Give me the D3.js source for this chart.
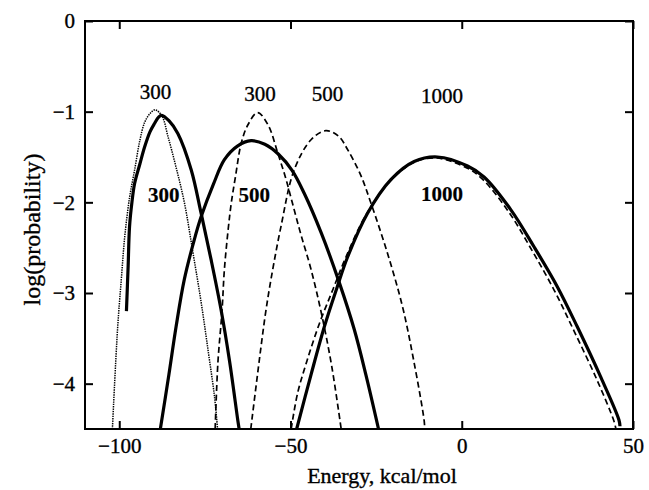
<!DOCTYPE html>
<html>
<head>
<style>
  body {
    margin: 0;
    background-color: #fff;
  }
  text {
    font-family: "Liberation Serif", "Times New Roman", serif;
    fill: #000;
  }
</style>
<script src="https://d3js.org/d3.v7.min.js"></script>
</head>
<body>
<script>
  // energy (kcal/mol), log(probability) pairs
  const dotted300 = [
    [-102, -4.5], [-100.5, -3.4], [-99.4, -2.85], [-98.4, -2.38], [-97, -1.95],
    [-95.5, -1.64], [-94, -1.32], [-92.6, -1.12], [-91, -1.02], [-89.5, -0.98],
    [-87.5, -1.05], [-85.8, -1.27], [-83.5, -1.6], [-81, -2.0], [-78.5, -2.55],
    [-76.1, -3.1], [-74, -3.65], [-72.2, -4.14], [-71.3, -4.5]
  ];

  const solid300 = [
    [-97.9, -3.2], [-97.4, -2.7], [-97, -2.27], [-96.3, -2.0], [-95.5, -1.79],
    [-94, -1.58], [-92.6, -1.39], [-91, -1.22], [-89.7, -1.13], [-88.5, -1.06],
    [-87.6, -1.04], [-85.5, -1.1], [-82.9, -1.24], [-79, -1.64], [-76.1, -2.12],
    [-73.2, -2.63], [-70.3, -3.18], [-67.8, -3.75], [-65.4, -4.4], [-65, -4.5]
  ];

  const solid500 = [
    [-88, -4.5], [-85.5, -3.9], [-83.4, -3.37], [-81, -2.85], [-78, -2.4],
    [-76.1, -2.16], [-72.5, -1.8], [-69.3, -1.53], [-65.5, -1.38], [-61.5, -1.32],
    [-57.5, -1.36], [-53.5, -1.47], [-49.5, -1.65], [-46, -1.9], [-41, -2.34],
    [-35.8, -2.88], [-31.4, -3.4], [-28, -3.9], [-24.3, -4.5]
  ];

  const solid1000 = [
    [-48.2, -4.5], [-44, -3.9], [-40.1, -3.37], [-36.5, -2.95], [-33.3, -2.6],
    [-27.5, -2.12], [-20.7, -1.75], [-13.9, -1.55], [-7.1, -1.5], [1.7, -1.6],
    [6.5, -1.72], [14.3, -2.08], [21.1, -2.49], [27.9, -2.93], [33.7, -3.37],
    [40.5, -3.92], [45.9, -4.4], [46.2, -4.47]
  ];

  const dashed300 = [
    [-72, -4.5], [-71.2, -3.77], [-70, -3.2], [-69.3, -2.74], [-68.2, -2.3],
    [-67.3, -2.01], [-66, -1.7], [-64.4, -1.35], [-62.5, -1.15], [-59.6, -1.01],
    [-56.5, -1.15], [-53.7, -1.46], [-51.5, -1.72], [-49.5, -2.0], [-47, -2.35],
    [-44, -2.74], [-41, -3.22], [-38, -3.8], [-35.2, -4.5]
  ];

  const dashed500 = [
    [-61.6, -4.5], [-58.6, -3.59], [-57.2, -3.2], [-55.7, -2.85], [-52.8, -2.27],
    [-48.9, -1.64], [-44, -1.31], [-39.7, -1.21], [-36, -1.27], [-33.3, -1.42],
    [-29.5, -1.7], [-26.5, -2.01], [-21.7, -2.56], [-17.3, -3.15], [-14, -3.75],
    [-11, -4.4], [-10.8, -4.5]
  ];

  const dashed1000 = [
    [-49.8, -4.5], [-47.9, -4.1], [-45.2, -3.75], [-41.5, -3.33], [-37.5, -2.95],
    [-34, -2.62], [-28, -2.14], [-21, -1.77], [-14, -1.56], [-7.5, -1.51],
    [1.5, -1.62], [6.2, -1.75], [13.8, -2.11], [20.5, -2.53], [27, -2.97],
    [32.8, -3.42], [39.5, -3.96], [44.5, -4.42], [45, -4.5]
  ];

  // curve labels: [energy, logp of baseline, text, bold]
  const curveLabels = [
    [-89.4, -0.86, '300', false],
    [-58.9, -0.887, '300', false],
    [-39.2, -0.887, '500', false],
    [-5.8, -0.905, '1000', false],
    [-87.0, -2.0, '300', true],
    [-60.6, -2.0, '500', true],
    [-5.8, -1.99, '1000', true]
  ];

  const xTicks = [-100, -50, 0, 50];
  const yTicks = [0, -1, -2, -3, -4];

  const width = 649;
  const height = 490;
  const margin = { top: 21, right: 16, bottom: 61, left: 85 };

  const svg = d3.select('body')
    .append('svg')
    .attr('width', width)
    .attr('height', height);

  const x = d3.scaleLinear()
    .domain([-110, 50])
    .range([margin.left, width - margin.right]);

  const y = d3.scaleLinear()
    .domain([-4.5, 0])
    .range([height - margin.bottom, margin.top]);

  svg.append('clipPath')
    .attr('id', 'plot')
    .append('rect')
    .attr('x', margin.left)
    .attr('y', margin.top)
    .attr('width', x.range()[1] - x.range()[0])
    .attr('height', y.range()[0] - y.range()[1]);

  const line = d3.line()
    .x(d => x(d[0]))
    .y(d => y(d[1]))
    .curve(d3.curveCatmullRom.alpha(0.5));

  const curves = [
    { data: dotted300, width: 1.5, dash: '1.4,1' },
    { data: dashed300, width: 1.7, dash: '6,3.5' },
    { data: dashed500, width: 1.7, dash: '6,3.5' },
    { data: dashed1000, width: 1.7, dash: '6,3.5' },
    { data: solid300, width: 3.2, dash: null },
    { data: solid500, width: 3.2, dash: null },
    { data: solid1000, width: 3.2, dash: null }
  ];

  const plot = svg.append('g').attr('clip-path', 'url(#plot)');

  plot.selectAll('path')
    .data(curves)
    .join('path')
    .attr('fill', 'none')
    .attr('stroke', '#000')
    .attr('stroke-width', d => d.width)
    .attr('stroke-dasharray', d => d.dash)
    .attr('d', d => line(d.data));

  // axes: ticks point inward on all four sides
  const tickLen = 8;
  const minus = d => d < 0 ? '\u2212' + Math.abs(d) : d;
  const axisStyle = g => {
    g.select('.domain').remove();
    g.selectAll('.tick line').attr('stroke-width', 2);
    g.selectAll('.tick text')
      .attr('font-size', 21)
      .attr('font-family', '"Liberation Serif", serif')
      .attr('stroke', '#000')
      .attr('stroke-width', 0.35);
  };

  svg.append('g')
    .attr('transform', `translate(0,${y(-4.5)})`)
    .call(d3.axisBottom(x).tickValues(xTicks).tickSize(-tickLen).tickPadding(6)
      .tickFormat(minus))
    .call(axisStyle)
    .call(g => g.selectAll('.tick text').attr('dy', '0.85em'));

  svg.append('g')
    .attr('transform', `translate(0,${y(0)})`)
    .call(d3.axisTop(x).tickValues(xTicks).tickSize(-tickLen).tickFormat(''))
    .call(axisStyle);

  svg.append('g')
    .attr('transform', `translate(${x(-110)},0)`)
    .call(d3.axisLeft(y).tickValues(yTicks).tickSize(-tickLen).tickPadding(10)
      .tickFormat(minus))
    .call(axisStyle);

  svg.append('g')
    .attr('transform', `translate(${x(50)},0)`)
    .call(d3.axisRight(y).tickValues(yTicks).tickSize(-tickLen).tickFormat(''))
    .call(axisStyle);

  // frame
  svg.append('rect')
    .attr('x', x(-110))
    .attr('y', y(0))
    .attr('width', x(50) - x(-110))
    .attr('height', y(-4.5) - y(0))
    .attr('fill', 'none')
    .attr('stroke', '#000')
    .attr('stroke-width', 2);

  svg.selectAll('.curve-label')
    .data(curveLabels)
    .join('text')
    .attr('class', 'curve-label')
    .attr('x', d => x(d[0]))
    .attr('y', d => y(d[1]))
    .attr('text-anchor', 'middle')
    .attr('font-size', 21)
    .attr('font-weight', d => d[3] ? 'bold' : 'normal')
    .attr('stroke', '#000')
    .attr('stroke-width', d => d[3] ? 0.2 : 0.35)
    .text(d => d[2]);

  svg.append('text')
    .attr('x', 382)
    .attr('y', 483)
    .attr('text-anchor', 'middle')
    .attr('font-size', 22)
    .attr('stroke', '#000')
    .attr('stroke-width', 0.35)
    .text('Energy, kcal/mol');

  svg.append('text')
    .attr('transform', `translate(40,${y(-2.3)}) rotate(-90)`)
    .attr('text-anchor', 'middle')
    .attr('font-size', 24)
    .attr('stroke', '#000')
    .attr('stroke-width', 0.35)
    .text('log(probability)');
</script>
</body>
</html>
